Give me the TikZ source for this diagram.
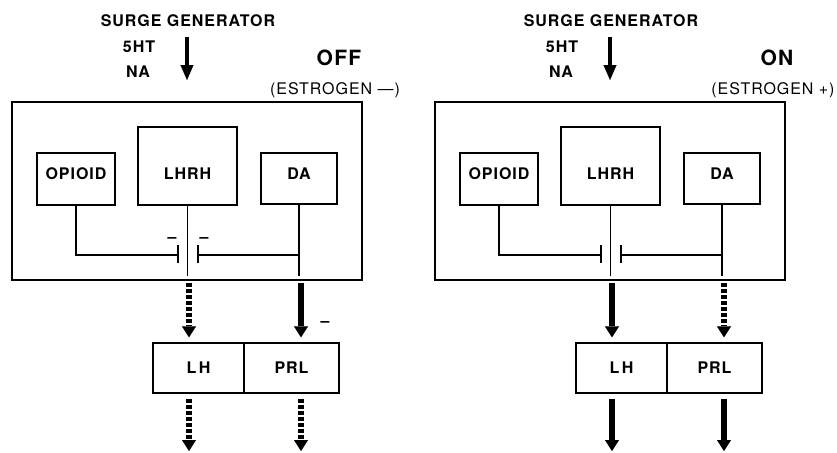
\documentclass[tikz,border=0pt]{standalone}
\usepackage{fontspec}
\setmainfont{TeX Gyre Heros}
\newfontfamily\spfont[LetterSpace=6]{TeX Gyre Heros}
\usetikzlibrary{arrows.meta}
\tikzset{
  outerbox/.style={draw, line width=1.5pt, inner sep=0pt},
  box/.style={draw, line width=1.3pt, inner sep=0pt, font=\spfont\bfseries\fontsize{16}{18}\selectfont},
  lbl/.style={inner sep=0pt, font=\spfont\bfseries\fontsize{16}{18}\selectfont},
  reglbl/.style={inner sep=0pt, font=\spfont\fontsize{16}{18}\selectfont},
  minuslbl/.style={inner sep=0pt, font=\spfont\bfseries\fontsize{16}{18}\selectfont},
  biglbl/.style={inner sep=0pt, font=\spfont\bfseries\fontsize{21}{24}\selectfont},
  conn/.style={line width=1.2pt},
  solidarr/.style={line width=5.5pt, -{Triangle[width=14pt,length=11pt,line width=0.1pt]}},
  dotarr/.style={solidarr, dash pattern=on 4pt off 2pt},
  surgearr/.style={line width=4pt, -{Triangle[width=13pt,length=15pt,line width=0.1pt]}}
}
\newcommand\drawpanel[5]{%
\begin{scope}[xshift=#2pt, name prefix=#1-]
  \node[lbl] (surge) at (188,21) {SURGE GENERATOR};
  \node[lbl] (ht) at (139,47) {5HT};
  \node[lbl] (na) at (138,72) {NA};
  \coordinate (sg1) at (187,37);
  \coordinate (sg2) at (187,80);
  \draw[surgearr] (sg1) -- (sg2);
  \node[outerbox, minimum width=350pt, minimum height=178pt] (out) at (187,191) {};
  \node[box, minimum width=99pt, minimum height=78pt] (lhrh) at (187.5,166) {};
  \node[box, minimum width=78pt, minimum height=52pt] (op) at (76,179) {};
  \node[box, minimum width=76pt, minimum height=51pt] (da) at (299,178.5) {};
  \node[lbl] (opT) at (76,174) {OPIOID};
  \node[lbl] (lhrhT) at (187.5,174) {LHRH};
  \node[lbl] (daT) at (299,174) {DA};
  \coordinate (bl) at (178,255);
  \coordinate (br) at (198,255);
  \coordinate (lhrhEnd) at (187.5,276);
  \coordinate (daEnd) at (299,276);
  \draw[conn] (op.south) |- (bl);
  \draw[conn] ([yshift=10pt]bl) -- ([yshift=-8pt]bl);
  \draw[conn] (da.south |- br) -- (br);
  \draw[conn] ([yshift=10pt]br) -- ([yshift=-8pt]br);
  \draw[conn] (lhrh.south) -- (lhrhEnd);
  \draw[conn] (da.south) -- (daEnd);
  \node[box, minimum width=91pt, minimum height=50pt] (lh) at (198.5,368) {L\,H};
  \node[box, minimum width=95pt, minimum height=50pt] (prl) at (291.5,368) {PRL};
  \coordinate (x1) at (189,0);
  \coordinate (x2) at (301,0);
  \coordinate (bot) at (0,451);
  \draw[#3, shorten <=2pt, shorten >=5pt] (x1 |- out.south) -- (x1 |- lh.north);
  \draw[#4, shorten <=2pt, shorten >=5pt] (x2 |- out.south) -- (x2 |- prl.north);
  \draw[#5, shorten <=5pt] (x1 |- lh.south) -- (x1 |- bot);
  \draw[#5, shorten <=5pt] (x2 |- prl.south) -- (x2 |- bot);
\end{scope}}

\begin{document}
\begin{tikzpicture}[x=1pt,y=-1pt]
\useasboundingbox (0,0) rectangle (837,452);
\drawpanel{L}{0}{dotarr}{solidarr}{dotarr}
\drawpanel{R}{423}{solidarr}{dotarr}{solidarr}
\node[biglbl] (off) at (339,58) {OFF};
\node[reglbl] (estm) at (335,90) {(ESTROGEN —)};
\node[biglbl] (on) at (777,58) {ON};
\node[reglbl] (estp) at (773,90) {(ESTROGEN +)};
\node[minuslbl] (m1) at (172,240) {–};
\node[minuslbl] (m2) at (204,240) {–};
\node[minuslbl] (m3) at (325,324) {–};
\end{tikzpicture}
\end{document}
